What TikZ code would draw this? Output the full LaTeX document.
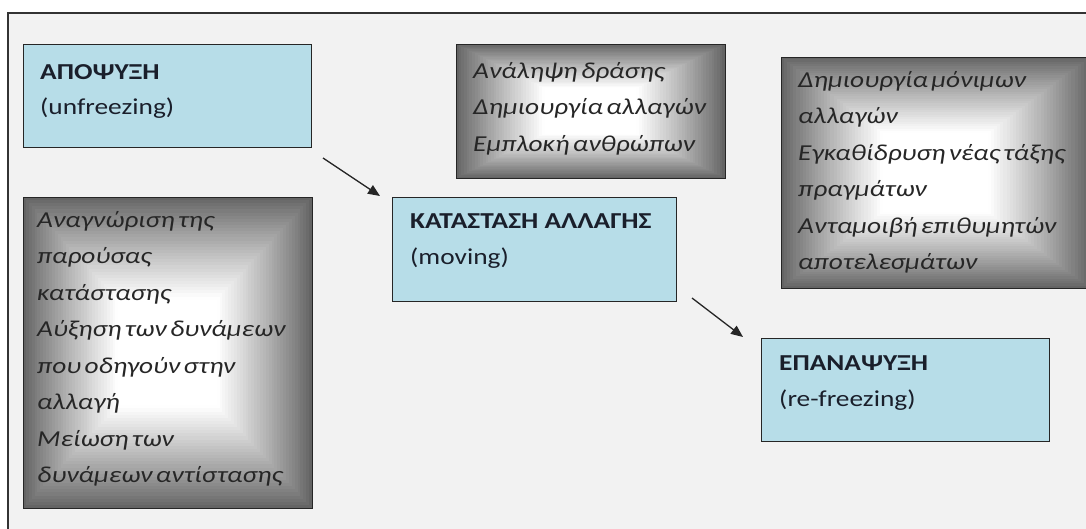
\documentclass[tikz,border=0pt]{standalone}
\usepackage{fontspec}
\setmainfont{Carlito}[FakeStretch=1.2,ItalicFeatures={WordSpace=0.55}]
\usetikzlibrary{arrows.meta}
\definecolor{bgray}{HTML}{F2F2F2}
\definecolor{lblue}{HTML}{B7DDE8}
\definecolor{dgray}{HTML}{646464}
\definecolor{ink}{HTML}{1A1F2B}
\definecolor{edge}{HTML}{262626}
\newcommand\gradrect[4]{%
  \pgfmathsetmacro\gcx{(#1+#3)/2}%
  \pgfmathsetmacro\gcy{(#2+#4)/2}%
  \pgfmathsetmacro\ghw{(#3-#1)/2}%
  \pgfmathsetmacro\ghh{(#4-#2)/2}%
  \foreach \k in {0,...,50}{%
    \pgfmathsetmacro\gt{\k/50}%
    \pgfmathsetmacro\gp{100*min(1,1.55*\gt)^0.9}%
    \pgfmathsetmacro\gxa{\gcx-\ghw*(1-\gt)}%
    \pgfmathsetmacro\gxb{\gcx+\ghw*(1-\gt)}%
    \pgfmathsetmacro\gya{\gcy-\ghh*(1-\gt)}%
    \pgfmathsetmacro\gyb{\gcy+\ghh*(1-\gt)}%
    \fill[white!\gp!dgray] (\gxa,\gya) rectangle (\gxb,\gyb);
  }}
\begin{document}
\begin{tikzpicture}[x=1pt,y=-1pt,
  lbox/.style={draw=edge,line width=1.2pt,fill=lblue,inner sep=0pt,anchor=north west},
  dbox/.style={draw=edge,line width=1.2pt,inner sep=0pt,anchor=north west},
  htext/.style={inner sep=0pt,anchor=north west,align=left,text=ink,font=\fontsize{22.8}{35.5}\selectfont},
  itext/.style={inner sep=0pt,anchor=north west,align=left,text=black!85,font=\fontsize{22.8}{36.5}\selectfont\itshape},
  arr/.style={line width=1.3pt,draw=black!85,-{Triangle[length=12pt,width=10pt]}}]
\useasboundingbox (0,0) rectangle (1086,528);
\fill[white] (0,0) rectangle (1086,528);
\draw[fill=bgray,draw=black!80,line width=1.5pt] (8,13) rectangle (1100,545);
% shaded boxes
\gradrect{23}{197}{312}{508}
\gradrect{456}{44}{725}{178}
\gradrect{781}{57}{1090}{288}
\node[dbox,minimum width=289pt,minimum height=311pt] (recog) at (23,197) {};
\node[dbox,minimum width=269pt,minimum height=134pt] (action) at (456,44) {};
\node[dbox,minimum width=309pt,minimum height=231pt] (perm) at (781,57) {};
% light boxes
\node[lbox,minimum width=288pt,minimum height=103pt] (unf) at (23,44) {};
\node[lbox,minimum width=284pt,minimum height=104pt] (mov) at (392,197) {};
\node[lbox,minimum width=288pt,minimum height=103pt] (ref) at (761,338) {};
% texts
\node[htext] (unft) at (40,64) {\textbf{ΑΠΟΨΥΞΗ}\\(unfreezing)};
\node[htext] (movt) at (410,214) {\textbf{ΚΑΤΑΣΤΑΣΗ ΑΛΛΑΓΗΣ}\\(moving)};
\node[htext] (reft) at (779,356) {\textbf{ΕΠΑΝΑΨΥΞΗ}\\(re-freezing)};
\node[itext] (recogt) at (37,211) {Αναγνώριση της\\παρούσας\\κατάστασης\\Αύξηση των δυνάμεων\\που οδηγούν στην\\αλλαγή\\Μείωση των\\δυνάμεων αντίστασης};
\node[itext] (actiont) at (473,62) {Ανάληψη δράσης\\Δημιουργία αλλαγών\\Εμπλοκή ανθρώπων};
\node[itext] (permt) at (798,71) {Δημιουργία μόνιμων\\αλλαγών\\Εγκαθίδρυση νέας τάξης\\πραγμάτων\\Ανταμοιβή επιθυμητών\\αποτελεσμάτων};
% arrows
\coordinate (a1s) at (323,158);
\coordinate (a1e) at (380,196);
\coordinate (a2s) at (692,298);
\coordinate (a2e) at (743,337);
\draw[arr] (a1s) -- (a1e);
\draw[arr] (a2s) -- (a2e);
\end{tikzpicture}
\end{document}
